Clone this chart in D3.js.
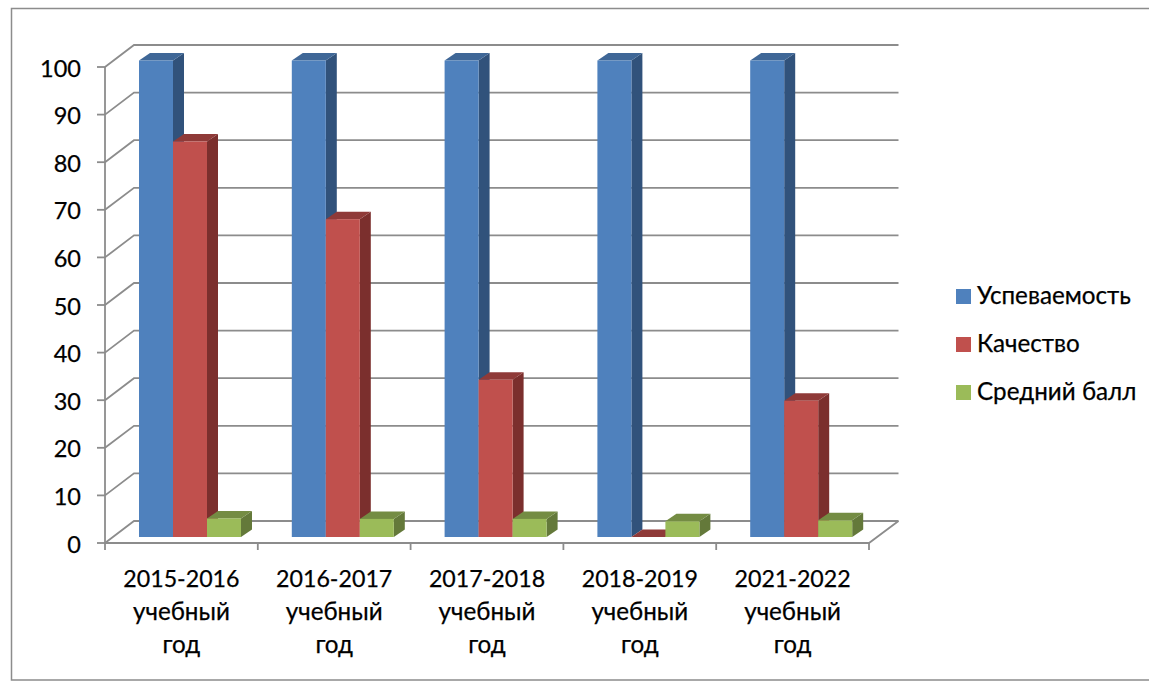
<!DOCTYPE html>
<html><head><meta charset="utf-8">
<script src="https://cdnjs.cloudflare.com/ajax/libs/d3/7.8.5/d3.min.js"></script>
<style>html,body{margin:0;padding:0;background:#fff;overflow:hidden}svg{display:block}text{font-family:Lato,"Noto Sans",sans-serif;fill:#000;stroke:#000;stroke-width:.25}</style>
</head><body><script>
const categories=["2015-2016 учебный год","2016-2017 учебный год","2017-2018 учебный год","2018-2019 учебный год","2021-2022 учебный год"];
const seriesNames=["Успеваемость","Качество","Средний балл"];
const uspevaemost=[100,100,100,100,100];
const kachestvo=[83,66.7,33,0,28.6];
const sredniy=[3.9,3.8,3.8,3.3,3.5];
const yTicks=[0,10,20,30,40,50,60,70,80,90,100];
const front=["#4f81bd","#c0504d","#9bbb59"],top_=["#3f6797","#8f3a38","#748c43"],side=["#31527b","#7b2f2d","#64793a"];
const W=1149,H=683,dx=29,dy=22,bdx=11,bdy=7.5;
const svg=d3.select("body").append("svg").attr("width",W).attr("height",H);
const x=d3.scaleBand().domain(categories).range([105,869]);
const inner=d3.scaleBand().domain(seriesNames).range([34,136]);
const y=d3.scaleLinear().domain([0,100]).range([543,67]);
const barY=d3.scaleLinear().domain([0,100]).range([537,60.5]);
const grey="#8c8c8c";
svg.append("path").attr("d","M1152,8.5H11.5V680H1152").attr("fill","#fff").attr("stroke",grey).attr("stroke-width",1.5);
const g=svg.append("g").attr("fill","none").attr("stroke",grey).attr("stroke-width",1.8);
yTicks.forEach(t=>{
 g.append("path").attr("d",`M105,${y(t)}L${105+dx},${y(t)-dy}L898.5,${y(t)-dy}`);
});
g.append("path").attr("d",`M105,${y(0)}V${y(100)}`);
g.append("path").attr("d",`M105,${y(0)}H869L898.5,${y(0)-dy}`);
yTicks.forEach(t=>g.append("path").attr("d",`M97,${y(t)}H105`));
x.domain().concat([null]).forEach((c,i)=>{const px=c?x(c):869;g.append("path").attr("d",`M${px},${y(0)}V${y(0)+7}`)});
const vals=[uspevaemost,kachestvo,sredniy];
categories.forEach((c,i)=>{
 seriesNames.forEach((s,j)=>{
  const bw=inner.bandwidth(),x0=x(c)+inner(s),v=vals[j][i],yt=barY(v),yb=barY(0);
  const b=svg.append("g");
  b.append("path").attr("fill",side[j]).attr("d",`M${x0+bw},${yt}l${bdx},${-bdy}V${yb-bdy}l${-bdx},${bdy}Z`);
  b.append("path").attr("fill",top_[j]).attr("d",`M${x0},${yt}l${bdx},${-bdy}h${bw}l${-bdx},${bdy}Z`);
  b.append("rect").attr("x",x0).attr("y",yt).attr("width",bw).attr("height",yb-yt).attr("fill",front[j]);
 });
});
yTicks.forEach(t=>svg.append("text").attr("x",81).attr("y",y(t)+9.5).attr("text-anchor","end").attr("font-size",23.5).text(t));
categories.forEach(c=>{
 const m=c.match(/^(\S+) (\S+) (\S+)$/).slice(1);
 m.forEach((l,k)=>svg.append("text").attr("x",x(c)+x.bandwidth()/2).attr("y",587+k*33).attr("text-anchor","middle").attr("font-size",k?24.2:23.2).text(l));
});
seriesNames.forEach((s,j)=>{
 const ly=295.5+j*48;
 svg.append("rect").attr("x",956).attr("y",ly-6.5).attr("width",15).attr("height",15).attr("fill",front[j]);
 svg.append("text").attr("x",977).attr("y",ly+8).attr("font-size",24.2).text(s);
});
</script></body></html>
